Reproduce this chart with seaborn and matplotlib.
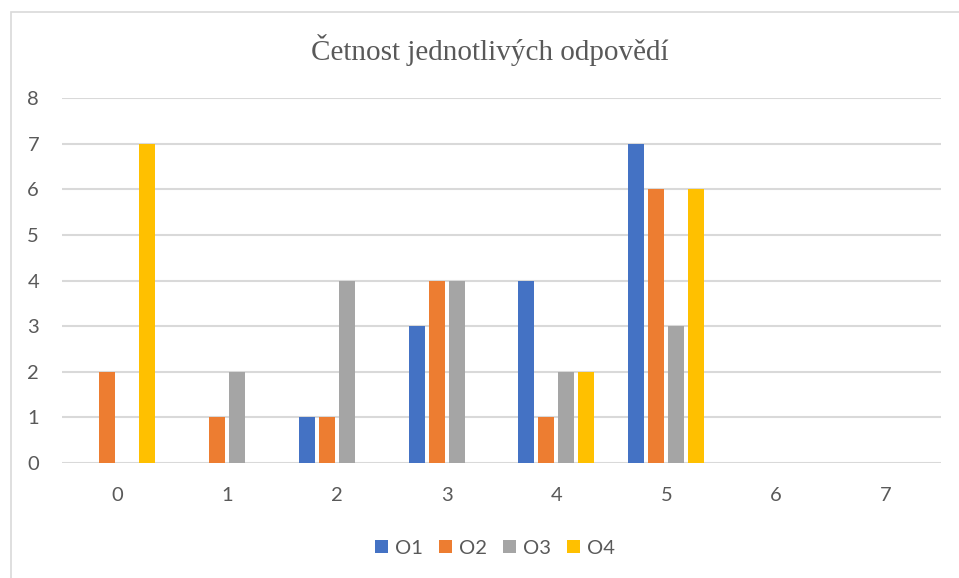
import numpy as np
import pandas as pd
import seaborn as sns
import matplotlib.pyplot as plt
from matplotlib.patches import Rectangle

# data
scores = ['0', '1', '2', '3', '4', '5', '6', '7']
o1 = [0, 0, 1, 3, 4, 7, 0, 0]
o2 = [2, 1, 1, 4, 1, 6, 0, 0]
o3 = [0, 2, 4, 4, 2, 3, 0, 0]
o4 = [7, 0, 0, 0, 2, 6, 0, 0]
series = ['O1', 'O2', 'O3', 'O4']
colors = ['#4472C4', '#ED7D31', '#A5A5A5', '#FFC000']

df = pd.DataFrame({
    'score': scores * 4,
    'count': o1 + o2 + o3 + o4,
    'question': np.repeat(series, len(scores)),
})

sns.set_style("white")
plt.rcParams['font.family'] = ['Lato', 'DejaVu Sans']

fig = plt.figure(figsize=(9.59, 5.78), dpi=100)
W, H = 959, 578
ax = fig.add_axes([62 / W, (H - 463) / H, (941 - 62) / W, (463 - 98) / H])

# chart border (Excel style)
fig.patches.append(Rectangle((10.5 / W, -0.05), 1.1, 1 - 11.5 / H + 0.05,
                             transform=fig.transFigure, fill=False,
                             edgecolor='#D9D9D9', linewidth=1.2, zorder=0))

sns.barplot(data=df, x='score', y='count', hue='question', palette=colors,
            width=0.728, gap=0.2, saturation=1, linewidth=0, ax=ax)

ax.set_ylim(0, 8)
ax.set_xlim(-0.5, 7.5)
ax.set_yticks(range(0, 9))
ax.yaxis.grid(True, color='#D9D9D9', linewidth=1.5)
ax.set_axisbelow(True)
for s in ax.spines.values():
    s.set_visible(False)
ax.tick_params(axis='both', length=0, labelsize=14.5, colors='#595959')
ax.tick_params(axis='y', pad=16.5)
ax.tick_params(axis='x', pad=17.5)
ax.set_xlabel('')
ax.set_ylabel('')

fig.text(490 / W, 1 - 50 / H, 'Četnost jednotlivých odpovědí',
         family='Liberation Serif', fontsize=21, color='#595959',
         ha='center', va='center')

handles, labels = ax.get_legend_handles_labels()
ax.get_legend().remove()
fig.legend(handles, labels, loc='center', bbox_to_anchor=(495 / W, 1 - 548 / H),
           ncol=4, frameon=False, fontsize=14.5, labelcolor='#595959',
           handlelength=0.65, handleheight=0.65, handletextpad=0.35,
           columnspacing=0.8)

fig.savefig('out.png', dpi=100, facecolor='white')
